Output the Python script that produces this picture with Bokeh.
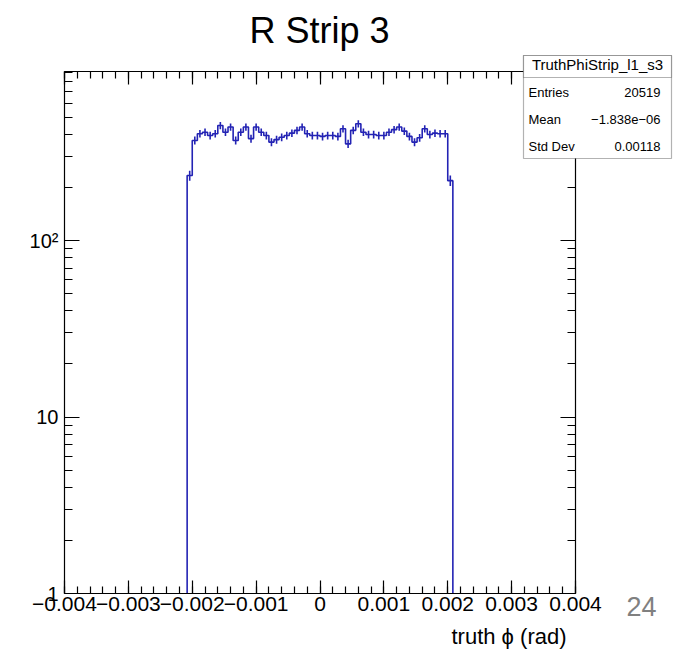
import numpy as np
from bokeh.plotting import figure
from bokeh.models import (Label, BoxAnnotation, FixedTicker, LinearAxis, LogAxis, Range1d,
                          CustomJSTickFormatter)
from bokeh.embed import file_html
from bokeh.resources import INLINE

# ---------------- data ----------------
bin_low = -0.00208
bin_width = 0.00008
counts = [234, 370, 404, 412, 395, 404, 450, 412, 441, 370,
          412, 441, 379, 441, 412, 395, 362, 374, 386, 395,
          407, 422, 441, 404, 395, 395, 390, 395, 395, 390,
          431, 354, 422, 460, 412, 400, 400, 395, 395, 412,
          426, 441, 418, 390, 362, 383, 431, 400, 407, 404,
          404, 219]

x_ticks = [-0.004, -0.003, -0.002, -0.001, 0.0, 0.001, 0.002, 0.003, 0.004]
x_tick_labels = ["\u22120.004", "\u22120.003", "\u22120.002", "\u22120.001", "0",
                 "0.001", "0.002", "0.003", "0.004"]
y_ticks = [1, 10, 100]
y_tick_labels = ["1", "10", "10\u00b2"]

title_text = "R Strip 3"
x_label = "truth \u03d5 (rad)"
stats_title = "TruthPhiStrip_l1_s3"
stats_names = ["Entries", "Mean", "Std Dev"]
stats_values = ["20519", "\u22121.838e\u221206", "0.00118"]
page_number = "24"

x_lo, x_hi = -0.004, 0.004
y_lo, y_hi = 1.0, 910.0

# ---------------- layout (pixels) ----------------
W, H = 682, 653
FL, FR, FT, FB = 64, 575, 71, 593   # plot-area box in canvas pixels

# ---------------- derived ----------------
n = len(counts)
edges = bin_low + bin_width * np.arange(n + 1)
centers = 0.5 * (edges[:-1] + edges[1:])
c = np.array(counts, dtype=float)
err = np.sqrt(c)

xs = [edges[0]]
ys = [y_lo]
for k in range(n):
    xs += [edges[k], edges[k + 1]]
    ys += [c[k], c[k]]
xs.append(edges[-1])
ys.append(y_lo)

x_minor = [round(v, 6) for v in np.arange(-0.004, 0.0040001, 0.0002)]
y_minor = [m * 10 ** k for k in range(0, 3) for m in range(2, 10) if m * 10 ** k < y_hi]

# ranges so that the plot area sits at FL..FR / FT..FB while the frame covers the canvas
u = (x_hi - x_lo) / (FR - FL)
xr = Range1d(x_lo - FL * u, x_hi + (W - FR) * u)
D = (FB - FT) / (np.log10(y_hi) - np.log10(y_lo))
yr = Range1d(10 ** (np.log10(y_lo) - (H - FB) / D), 10 ** (np.log10(y_hi) + FT / D))

FONT = "Liberation Sans"
HCOL = "#2323b4"

p = figure(width=W, height=H, output_backend="svg", toolbar_location=None,
           x_range=xr, y_range=yr, y_axis_type="log",
           x_axis_location=None, y_axis_location=None, min_border=0)
p.grid.visible = False
p.outline_line_color = None
p.background_fill_color = "white"
p.border_fill_color = "white"

xt = FixedTicker(ticks=x_ticks, minor_ticks=x_minor)
yt = FixedTicker(ticks=y_ticks, minor_ticks=y_minor)
blank = CustomJSTickFormatter(code="return ''")


def style_axis(ax, major_len, minor_len, show_labels, size="20px"):
    ax.axis_line_color = "black"
    ax.axis_line_width = 1.2
    ax.major_tick_in = major_len
    ax.major_tick_out = 0
    ax.minor_tick_in = minor_len
    ax.minor_tick_out = 0
    ax.major_tick_line_color = "black"
    ax.minor_tick_line_color = "black"
    ax.major_tick_line_width = 1.2
    ax.minor_tick_line_width = 1.2
    ax.major_label_text_font = FONT
    ax.major_label_text_color = "black"
    ax.major_label_text_font_size = size
    if not show_labels:
        ax.formatter = blank
        ax.major_label_standoff = 0


xb = LinearAxis(ticker=xt, fixed_location=y_lo, bounds=(x_lo, x_hi))
style_axis(xb, 13, 7, True, "21px")
xb.major_label_standoff = 3
xb.major_label_overrides = {t: l for t, l in zip(x_ticks, x_tick_labels)}
p.add_layout(xb, "below")

xa = LinearAxis(ticker=xt, fixed_location=y_hi, bounds=(x_lo, x_hi))
style_axis(xa, 13, 7, False)
p.add_layout(xa, "above")

yl = LogAxis(ticker=yt, fixed_location=x_lo, bounds=(y_lo, y_hi))
style_axis(yl, 15, 8, True, "20px")
yl.major_label_standoff = 6
yl.major_label_overrides = {t: l for t, l in zip(y_ticks, y_tick_labels)}
p.add_layout(yl, "left")

yrt = LogAxis(ticker=yt, fixed_location=x_hi, bounds=(y_lo, y_hi))
style_axis(yrt, 15, 8, False)
p.add_layout(yrt, "right")

# histogram
p.line(xs, ys, line_color=HCOL, line_width=1.6)
p.segment(x0=centers, y0=c - err, x1=centers, y1=c + err, line_color=HCOL, line_width=1.6)


def lab(x, y, text, size, align="left", color="black"):
    p.add_layout(Label(x=x, y=H - y, x_units="screen", y_units="screen", text=text,
                       text_align=align, text_baseline="middle", text_font=FONT,
                       text_font_size=size, text_color=color, level="overlay"))


# title, axis title, page number (positions in canvas pixels from top-left)
lab(319, 30, title_text, "36px", "center")
lab(566, 636, x_label, "22px", "right")
lab(641, 606, page_number, "27px", "center", "#808080")

# stats box
SB_L, SB_R, SB_T, SB_SEP, SB_B = 523, 671, 55, 77, 158
for top, bot in [(SB_T, SB_B), (SB_T, SB_SEP)]:
    p.add_layout(BoxAnnotation(left=SB_L, right=SB_R, top=H - top, bottom=H - bot,
                               left_units="screen", right_units="screen",
                               top_units="screen", bottom_units="screen",
                               fill_color="white", fill_alpha=1.0, line_color="black",
                               line_width=1.2, level="overlay"))
lab((SB_L + SB_R) / 2, 64, stats_title, "15px", "center")
for name, val, yy in zip(stats_names, stats_values, [92, 119, 146]):
    lab(528, yy, name, "13px", "left")
    lab(660, yy, val, "13px", "right")

open("out.html", "w").write(file_html(p, INLINE))
